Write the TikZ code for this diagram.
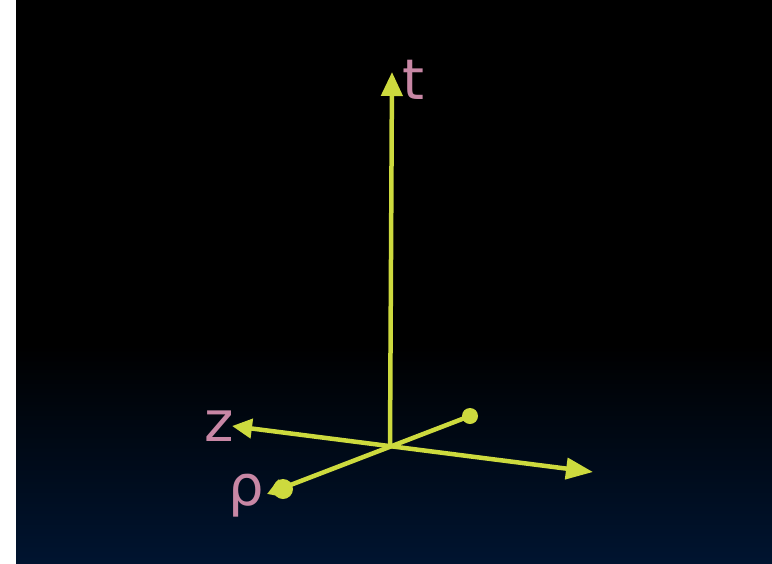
\documentclass[tikz,border=0pt]{standalone}
\usepackage{fontspec}
\setmainfont{DejaVu Sans}
\usetikzlibrary{arrows.meta,positioning}
\definecolor{axisyellow}{RGB}{205,218,62}
\definecolor{labelpink}{RGB}{200,135,165}
\definecolor{deepnavy}{RGB}{0,20,48}

\begin{document}
\begin{tikzpicture}[
    x=1pt, y=-1pt,
    axis/.style={draw=axisyellow, line width=4.5pt},
    bigtip/.style={-{Triangle[length=24pt, width=21pt]}},
    lbl/.style={text=labelpink, font=\fontsize{56}{56}\selectfont, inner sep=0pt},
    dot/.style={circle, fill=axisyellow, inner sep=0pt, minimum size=#1}
]
    \useasboundingbox (0,0) rectangle (772,563);

    % Background
    \fill[white] (0,0) rectangle (16,563);
    \fill[black] (16,0) rectangle (772,345);
    \shade[top color=black, bottom color=deepnavy] (16,345) rectangle (772,563);

    % Axis end points
    \coordinate (origin) at (390,446);
    \coordinate (tEnd) at (392,72);
    \coordinate (zLeft) at (232,426);
    \coordinate (zRight) at (593,472);
    \coordinate (rhoTip) at (267,494);
    \node [dot=16pt] (rhoBack) at (470,416) {};
    \node [dot=20pt] (rhoFront) at (283,489) {};

    % Axes
    \draw [axis, bigtip] (origin) -- (tEnd);
    \draw [axis, {Triangle[length=20pt, width=19pt]}-{Triangle[length=27pt, width=21pt]}] (zLeft) -- (zRight);
    \draw [axis, -{Triangle[length=16pt, width=18pt]}] (rhoBack.center) -- (rhoTip);

    % Labels
    \node [lbl, right=10pt of tEnd, yshift=-8pt] (tLabel) {t};
    \node [lbl, left=-2pt of zLeft] (zLabel) {z};
    \node [lbl, left=3pt of rhoTip, yshift=-2pt] (rhoLabel) {ρ};

\end{tikzpicture}
\end{document}
